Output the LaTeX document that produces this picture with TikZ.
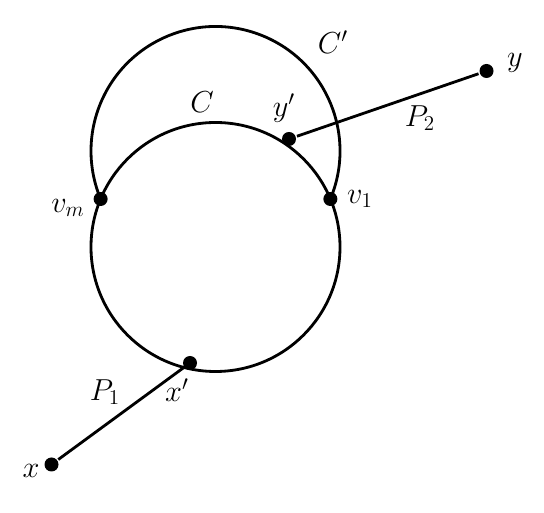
\documentclass[tikz,border=0pt]{standalone}
\usepackage{amsmath}
\usetikzlibrary{positioning, calc}

\tikzset{
  dot/.style={circle, fill=black, inner sep=0pt, minimum size=0.28cm},
  lbl/.style={font=\fontsize{17}{20}\selectfont, inner sep=0pt},
}

\begin{document}
\begin{tikzpicture}[line width=1.6pt]
  \useasboundingbox (0,0) rectangle (10.88,-10.26);

  % parameters
  \def\r{2.49}
  \def\ang{22.68}
  \coordinate (cC)  at (4.31,-4.94);  % centre of C
  \coordinate (cCp) at (4.31,-3.02);  % centre of C'

  % the cycle C and the outer arc of C'
  \draw (cC) circle[radius=\r];
  \coordinate (v1pt) at ($(cCp)+(-\ang:\r)$);
  \draw (v1pt) arc[start angle=-\ang, end angle=180+\ang, radius=\r];

  % vertices
  \node[dot] (v1) at (v1pt) {};
  \node[dot] (vm) at ($(cCp)+(180+\ang:\r)$) {};
  \node[dot] (yp) at (5.78,-2.78) {};
  \node[dot] (xp) at (3.80,-7.26) {};
  \node[dot] (y)  at (9.73,-1.42) {};
  \node[dot] (x)  at (1.03,-9.29) {};

  % paths P1 and P2
  \draw (x) -- (xp);
  \draw (yp) -- (y);

  % labels
  \node[lbl] (lC)  at (4.04,-2.04) {$C$};
  \node[lbl] (lCp) at (6.66,-0.84) {$C'$};
  \node[lbl] (lP2) at (8.40,-2.36) {$P_2$};
  \node[lbl] (lP1) at (2.10,-7.84) {$P_1$};
  \node[lbl] (ly)  at (10.30,-1.26) {$y$};
  \node[lbl] (lx)  at (0.62,-9.42) {$x$};
  \node[lbl] (lyp) at (5.68,-2.16) {$y'$};
  \node[lbl] (lxp) at (3.54,-7.80) {$x'$};
  \node[lbl] (lvm) at (1.36,-4.16) {$v_m$};
  \node[lbl] (lv1) at (7.20,-3.98) {$v_1$};
\end{tikzpicture}
\end{document}
